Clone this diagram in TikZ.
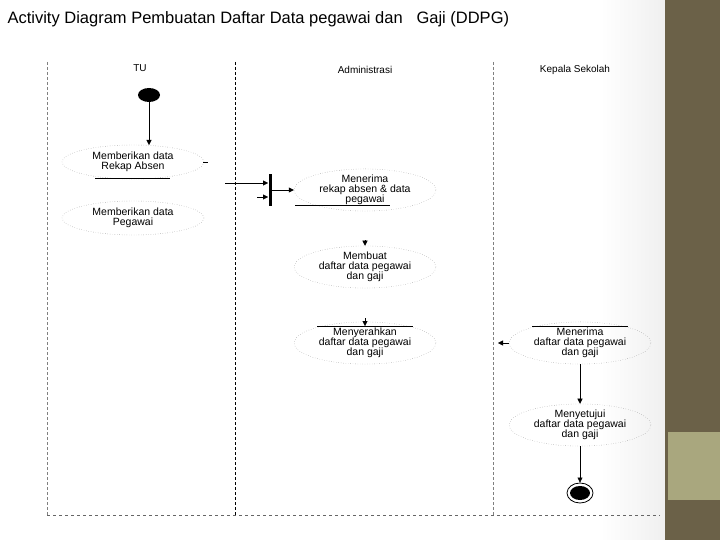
\documentclass[tikz,border=0pt]{standalone}
\usepackage{fontspec}
\setmainfont{Liberation Sans}
\usetikzlibrary{shapes.geometric,arrows.meta}
\definecolor{side}{HTML}{6B6148}
\definecolor{tan}{HTML}{A9A77E}
\begin{document}
\begin{tikzpicture}[x=1pt,y=-1pt,
  act/.style={ellipse,draw=gray,dotted,minimum width=142,minimum height=34,inner sep=0pt,align=center,font=\fontsize{10.5}{10}\selectfont},
  lane/.style={font=\fontsize{10}{10}\selectfont},
  flow/.style={-{Triangle[length=5pt,width=5pt]},black,thin}]
\useasboundingbox (0,0) rectangle (720,540);
\fill[white] (0,0) rectangle (720,540);
\shade[left color=white,right color=gray!12] (600,0) rectangle (665,540);
\fill[side] (665,0) rectangle (720,540);
\fill[tan] (668,432) rectangle (720,500);
\node[anchor=west,font=\fontsize{16.5}{16}\selectfont] (title) at (4,19) {Activity Diagram Pembuatan Daftar Data pegawai dan \ \ Gaji (DDPG)};
% frame
\draw[gray,densely dashed] (47,62) -- (47,515);
\draw[black,densely dashed] (235,62) -- (235,515);
\draw[gray,densely dashed] (493,62) -- (493,515);
\draw[gray!80!black,dashed] (47,515) -- (660,515);
\node[lane] (tu) at (140,68) {TU};
\node[lane] (adm) at (365,70) {Administrasi};
\node[lane] (ks) at (575,70) {Kepala Sekolah};
% start
\node[ellipse,fill=black,minimum width=22,minimum height=14,inner sep=0pt] (start) at (149,95) {};
\node[act] (a1) at (133,162) {Memberikan data\\Rekap Absen};
\node[act] (a2) at (133,218) {Memberikan data\\Pegawai};
\draw[flow] (start) -- (149,145);
\draw (95,178) -- (170,178);
\draw (203,162) -- (208,162);
% fork
\node[fill=black,minimum width=3,minimum height=32,inner sep=0pt] (fork) at (270,190) {};
\coordinate (f1) at (225,183);
\draw[flow] (f1) -- (268,183);
\draw[flow] (257,197) -- (268,197);
\node[act] (a3) at (365,190) {Menerima\\rekap absen \& data\\pegawai};
\draw[flow] (fork.east) -- (a3.west);
\draw (295,205) -- (390,205);
\node[act] (a4) at (365,267) {Membuat\\daftar data pegawai\\dan gaji};
\draw[flow] (365,240) -- (a4.north);
\node[act] (a5) at (365,343) {Menyerahkan\\daftar data pegawai\\dan gaji};
\draw[flow] (365,318) -- (365,326);
\draw (317,326) -- (413,326);
\node[act] (a6) at (580,343) {Menerima\\daftar data pegawai\\dan gaji};
\draw (532,326) -- (628,326);
\draw[flow] (a6.west) -- (498,343);
\node[act] (a7) at (580,425) {Menyetujui\\daftar data pegawai\\dan gaji};
\draw[flow] (a6.south) -- (a7.north);
\node[ellipse,draw,thick,minimum width=26,minimum height=20,inner sep=0pt] (end) at (580,493) {};
\node[ellipse,fill=black,minimum width=20,minimum height=14,inner sep=0pt] (endi) at (580,493) {};
\draw[flow] (a7.south) -- (end.north);
\end{tikzpicture}
\end{document}
